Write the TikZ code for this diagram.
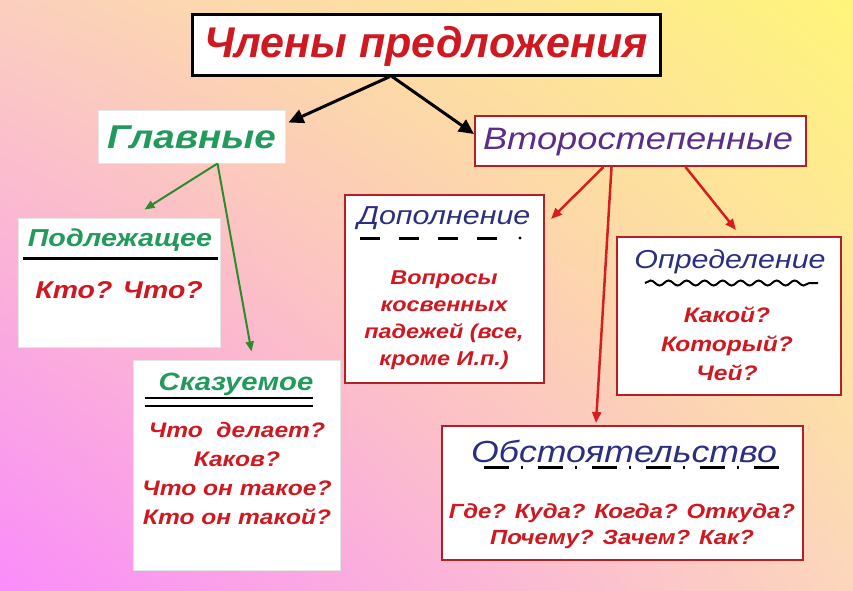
\documentclass[tikz,border=0pt]{standalone}
\usepackage{fontspec}
\setmainfont{Liberation Sans}
\newfontfamily\wfont[FakeStretch=1.17]{Liberation Sans}
\usetikzlibrary{arrows.meta,decorations.pathmorphing,calc,shadings}
\definecolor{bgtl}{HTML}{FBCFBE}
\definecolor{bgtr}{HTML}{FFF57A}
\definecolor{bgbl}{HTML}{FA8CFA}
\definecolor{bgbr}{HTML}{FCD6BC}
\definecolor{qred}{HTML}{D01820}
\definecolor{tgreen}{HTML}{229A5C}
\definecolor{tpurple}{HTML}{5A2D8A}
\definecolor{tblue}{HTML}{2B2F7F}
\definecolor{bred}{HTML}{B02025}
\definecolor{agreen}{HTML}{2E8A2E}
\definecolor{ared}{HTML}{D22020}
\tikzset{
  redbox/.style={draw=bred, line width=2pt, fill=white, inner sep=0pt},
  palebox/.style={draw=black!10, line width=1pt, fill=white, inner sep=0pt},
  qtext/.style={text=qred, font=\wfont\fontsize{21}{29}\selectfont\bfseries\itshape, inner sep=0pt, align=center},
  gtext/.style={text=tgreen, font=\wfont\fontsize{25}{28}\selectfont\bfseries\itshape, inner sep=0pt},
  btext/.style={text=tblue, font=\wfont\fontsize{26}{28}\selectfont\itshape, inner sep=0pt},
  blackarrow/.style={line width=3pt, -{Triangle[length=15pt,width=14pt]}},
  greenarrow/.style={draw=agreen, line width=2pt, -{Triangle[length=10pt,width=8pt]}},
  redarrow/.style={draw=ared, line width=2.5pt, -{Triangle[length=11pt,width=9pt]}},
}
\begin{document}
\begin{tikzpicture}[x=1pt,y=-1pt]
\useasboundingbox (0,0) rectangle (853,590);
\shade[shading=bilinear interpolation, upper left=bgtl, upper right=bgtr, lower left=bgbl, lower right=bgbr] (0,0) rectangle (853,590);

% boxes
\node[draw=black, line width=3pt, fill=white, minimum width=468pt, minimum height=61pt] (title) at (426,44.5) {};
\node[text=qred, font=\fontsize{43}{46}\selectfont\bfseries\itshape, inner sep=0pt] (titletext) at (426,46) {Члены предложения};

\node[palebox, minimum width=187pt, minimum height=53pt] (glav) at (191.5,136.5) {};
\node[text=tgreen, font=\wfont\fontsize{33}{35}\selectfont\bfseries\itshape, inner sep=0pt] (glavt) at (191.5,137) {Главные};
\node[redbox, minimum width=331pt, minimum height=50pt] (vtor) at (640.5,141) {};
\node[text=tpurple, font=\wfont\fontsize{31}{33}\selectfont\itshape, inner sep=0pt] (vtort) at (638,142) {Второстепенные};

\node[palebox, minimum width=202pt, minimum height=129pt] (podl) at (119,282.5) {};
\node[palebox, minimum width=207pt, minimum height=210pt] (skaz) at (236.5,465) {};
\node[redbox, minimum width=199pt, minimum height=188pt] (dop) at (444.5,289) {};
\node[redbox, minimum width=224pt, minimum height=158pt] (opr) at (729,316) {};
\node[redbox, minimum width=361pt, minimum height=134pt] (obst) at (622.5,493) {};

% texts
\node[gtext, font=\wfont\fontsize{24.5}{28}\selectfont\bfseries\itshape] (podlt) at (120,240) {Подлежащее};
\draw[line width=3pt] (23,258) -- (218,258);
\node[qtext, font=\wfont\fontsize{24.3}{28}\selectfont\bfseries\itshape] (podlq) at (119,290) {Кто? Что?};

\node[gtext] (skazt) at (236,384) {Сказуемое};
\draw[line width=2.5pt] (145,398) -- (313,398);
\draw[line width=2.5pt] (145,406) -- (313,406);
\node[qtext, anchor=north] (skazq) at (237,422) {Что\ \ делает?\\Каков?\\Что он такое?\\Кто он такой?};

\node[btext] (dopt) at (444,218) {Дополнение};
\draw[line width=3pt, dash pattern=on 20pt off 19pt] (360,238) -- (500,238);
\fill (520,238) circle (1.6pt);
\node[qtext, font=\wfont\fontsize{20}{27}\selectfont\bfseries\itshape, anchor=north] (dopq) at (444,271) {Вопросы\\косвенных\\падежей (все,\\кроме И.п.)};

\node[btext] (oprt) at (730,262) {Определение};
\draw[line width=2pt, decorate, decoration={snake, segment length=18pt, amplitude=2.5pt}] (645,283) -- (818,283);
\node[qtext, anchor=north] (oprq) at (727,307) {Какой?\\Который?\\Чей?};

\node[btext, font=\wfont\fontsize{30.5}{32}\selectfont\itshape] (obstt) at (624,451) {Обстоятельство};
\draw[line width=3pt, dash pattern=on 25pt off 12pt on 2pt off 15pt] (484,467) -- (780,467);
\node[qtext, font=\wfont\fontsize{20.5}{26}\selectfont\bfseries\itshape, anchor=north] (obstq) at (622,503) {Где? Куда? Когда? Откуда?\\Почему? Зачем? Как?};

% arrows
\draw[blackarrow] ($(title.south)+(-36,0)$) -- ($(glav.north east)+(3,13)$);
\draw[blackarrow] ($(title.south)+(-34,0)$) -- ($(vtor.north west)+(0,19)$);
\draw[greenarrow] ($(glav.south)+(26,0)$) -- ($(podl.north west)+(127,-8)$);
\draw[greenarrow] ($(glav.south)+(26,0)$) -- ($(skaz.north west)+(119,-8)$);
\draw[redarrow] ($(vtor.south)+(-37,0)$) -- ($(dop.north east)+(6,25)$);
\draw[redarrow] ($(vtor.south)+(-29,0)$) -- ($(obst.north west)+(155,-2)$);
\draw[redarrow] ($(vtor.south)+(45,0)$) -- ($(opr.north west)+(120,-6)$);
\end{tikzpicture}
\end{document}
